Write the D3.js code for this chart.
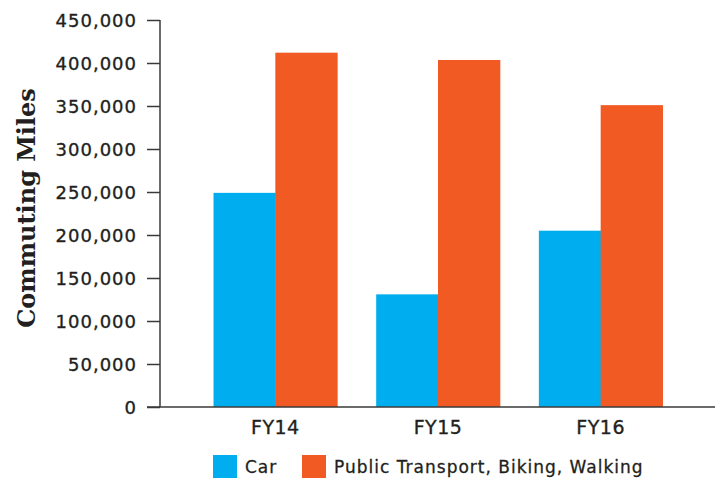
<!DOCTYPE html>
<html>
<head>
<meta charset="utf-8">
<script src="https://cdn.jsdelivr.net/npm/d3@7"></script>
<style>
  body { margin: 0; background: #fff; }
  svg { display: block; }
  .tick text { font-family: "DejaVu Sans", sans-serif; fill: #231f20; stroke: #231f20; stroke-width: 0.35px; }
</style>
</head>
<body>
<svg id="chart" width="719" height="479"></svg>
<script>
// values
var years = ["FY14", "FY15", "FY16"];
var seriesNames = ["Car", "Public Transport, Biking, Walking"];
var carMiles = [249000, 131000, 205000];
var otherMiles = [412000, 403500, 351000];
var yTicks = [0, 50000, 100000, 150000, 200000, 250000, 300000, 350000, 400000, 450000];
var colors = ["#00aeef", "#f15a22"];

var svg = d3.select("#chart");
var axisColor = "#3a3a3a";

var x0 = d3.scaleBand()
    .domain(years)
    .range([194, 682])
    .paddingInner(0.24)
    .paddingOuter(0.12);

var x1 = d3.scaleBand()
    .domain(seriesNames)
    .range([0, x0.bandwidth()]);

var y = d3.scaleLinear()
    .domain([0, 450000])
    .range([407, 20]);

var rows = years.map(function(yr, i) {
  return { year: yr, values: [carMiles[i], otherMiles[i]] };
});

//bars
var groups = svg.selectAll(".grp")
    .data(rows)
    .enter().append("g")
    .attr("class", "grp")
    .attr("transform", function(d) { return "translate(" + x0(d.year) + ",0)"; });

groups.selectAll("rect")
    .data(function(d) { return d.values.map(function(v, j) { return { name: seriesNames[j], v: v, j: j }; }); })
    .enter().append("rect")
    .attr("x", function(d) { return x1(d.name); })
    .attr("width", x1.bandwidth() + 0.5)
    .attr("y", function(d) { return y(d.v); })
    .attr("height", function(d) { return y(0) - y(d.v); })
    .attr("fill", function(d) { return colors[d.j]; });

//y axis
var yAxis = d3.axisLeft(y)
    .tickValues(yTicks)
    .tickSize(13)
    .tickPadding(10)
    .tickFormat(d3.format(","));

var yg = svg.append("g")
    .attr("transform", "translate(160,0)")
    .call(yAxis);
yg.select(".domain").remove();
yg.selectAll(".tick line").attr("stroke", axisColor).attr("stroke-width", 1.5);
yg.selectAll(".tick text")
    .style("font-size", "18px")
    .style("letter-spacing", "1px")
    .attr("dy", "0.36em");

svg.append("line")
    .attr("x1", 160).attr("x2", 160)
    .attr("y1", y(450000)).attr("y2", y(0))
    .attr("stroke", axisColor).attr("stroke-width", 1.5);

//x axis
var xAxis = d3.axisBottom(x0).tickSize(0).tickPadding(14);
var xg = svg.append("g")
    .attr("transform", "translate(0," + y(0) + ")")
    .call(xAxis);
xg.select(".domain").remove();
xg.selectAll(".tick text")
    .style("font-size", "19px")
    .style("letter-spacing", "0.5px");

svg.append("line")
    .attr("x1", 147).attr("x2", 715)
    .attr("y1", y(0)).attr("y2", y(0))
    .attr("stroke", axisColor).attr("stroke-width", 1.5);

//y label
svg.append("text")
    .attr("transform", "translate(35,208) rotate(-90)")
    .attr("text-anchor", "middle")
    .style("font-family", "'DejaVu Serif', serif")
    .style("font-weight", "bold")
    .style("font-size", "24px")
    .style("fill", "#231f20")
    .text("Commuting Miles");

//legend
var legendX = [213, 302];
var legend = svg.selectAll(".legend")
    .data(seriesNames)
    .enter().append("g")
    .attr("class", "legend")
    .attr("transform", function(d, i) { return "translate(" + legendX[i] + ",455)"; });

legend.append("rect")
    .attr("width", 24)
    .attr("height", 23)
    .attr("fill", function(d, i) { return colors[i]; });

legend.append("text")
    .attr("x", 32)
    .attr("y", 18)
    .style("font-family", "'DejaVu Sans', sans-serif")
    .style("font-size", "17px")
    .style("letter-spacing", "1px")
    .style("fill", "#231f20")
    .style("stroke", "#231f20")
    .style("stroke-width", "0.3px")
    .text(function(d) { return d; });
</script>
</body>
</html>
